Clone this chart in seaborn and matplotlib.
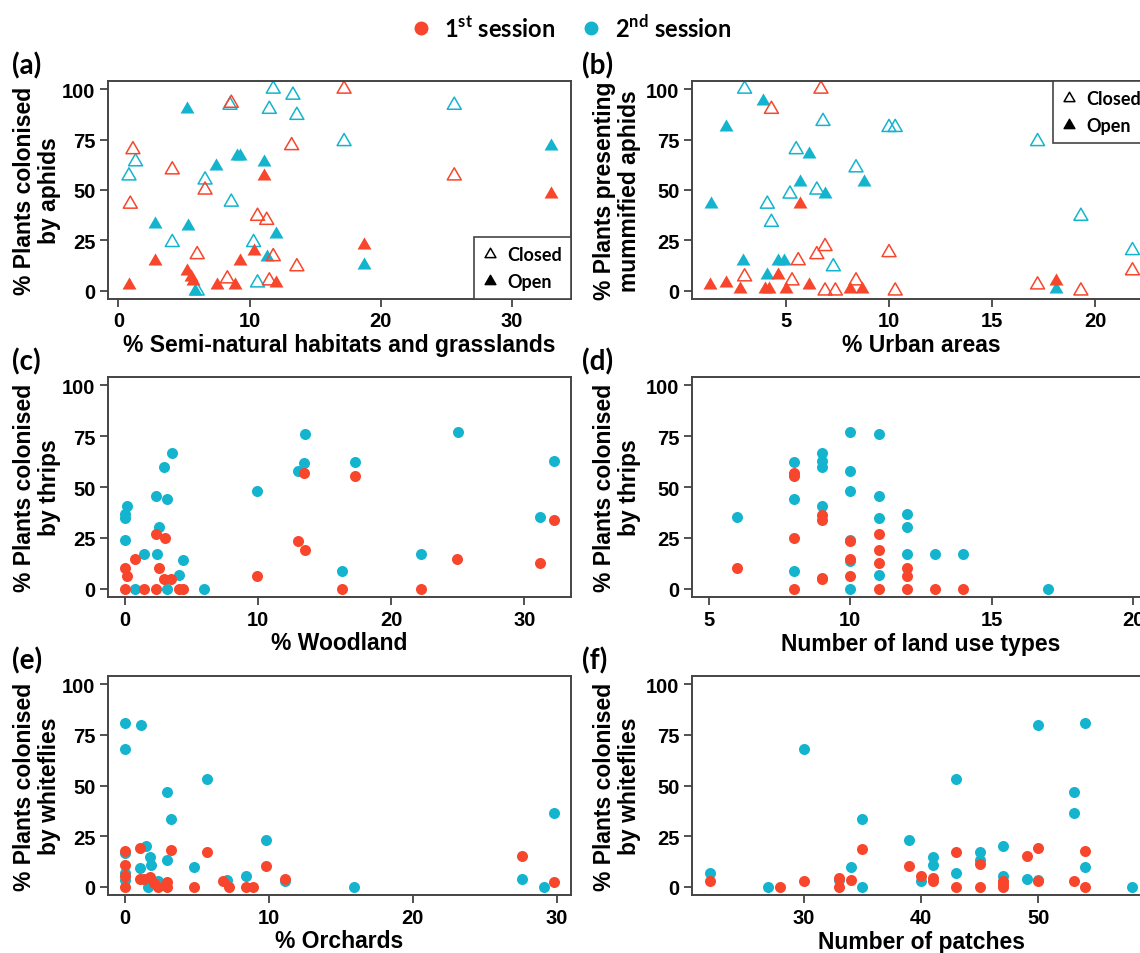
import matplotlib
matplotlib.use("Agg")
import matplotlib.pyplot as plt
from matplotlib.lines import Line2D
from matplotlib.path import Path
import seaborn as sns

# couleurs des deux sessions
RED = "#F7462C"
BLUE = "#14B4CE"

# (a) pucerons ~ % habitats semi-naturels
a_s1_closed_x = [1.1, 0.9, 4.1, 6.6, 6.0, 8.6, 8.3, 10.6, 11.3, 11.5, 11.8, 13.2, 13.6, 17.2, 25.6]
a_s1_closed_y = [70, 43, 60, 50, 18, 93, 6, 37, 35, 5, 17, 72, 12, 100, 57]
a_s1_open_x = [0.8, 2.8, 5.2, 5.5, 5.7, 7.5, 8.9, 9.3, 10.3, 11.1, 12.0, 18.7, 33.0]
a_s1_open_y = [3, 15, 10, 7, 5, 3, 3, 15, 20, 57, 4, 23, 48]
a_s2_closed_x = [0.8, 1.3, 4.1, 6.6, 6.0, 8.5, 8.6, 10.3, 10.6, 11.5, 11.8, 13.3, 13.6, 17.2, 25.6]
a_s2_closed_y = [57, 64, 24, 55, 0, 92, 44, 24, 4, 90, 100, 97, 87, 74, 92]
a_s2_open_x = [5.2, 2.8, 5.3, 7.4, 9.0, 9.3, 11.1, 11.3, 12.0, 5.8, 18.7, 33.0]
a_s2_open_y = [90, 33, 32, 62, 67, 67, 64, 17, 28, 0, 13, 72]

# (b) pucerons momifiés ~ % zones urbaines
b_s1_closed_x = [6.7, 4.3, 3.0, 5.3, 5.6, 6.5, 6.9, 6.9, 7.4, 8.4, 10.0, 10.3, 17.2, 19.3, 21.8]
b_s1_closed_y = [100, 90, 7, 5, 15, 18, 22, 0, 0, 5, 19, 0, 3, 0, 10]
b_s1_open_x = [1.3, 2.1, 2.8, 4.0, 4.2, 4.6, 5.0, 5.7, 6.1, 8.1, 8.7, 18.1]
b_s1_open_y = [3, 4, 1, 1, 1, 8, 1, 43, 3, 1, 1, 5]
b_s2_closed_x = [3.0, 6.8, 10.0, 10.3, 5.5, 8.4, 5.2, 6.5, 4.1, 4.3, 7.3, 17.2, 19.3, 21.8]
b_s2_closed_y = [100, 84, 81, 81, 70, 61, 48, 50, 43, 34, 12, 74, 37, 20]
b_s2_open_x = [3.9, 2.1, 1.35, 6.1, 5.7, 6.9, 8.8, 2.9, 4.6, 4.9, 4.1, 18.1]
b_s2_open_y = [94, 81, 43, 68, 54, 48, 54, 15, 15, 15, 8, 1]

# (c) thrips ~ % bois
c_s1_x = [0, 0, 0.1, 0.7, 1.4, 2.3, 2.3, 2.5, 3.0, 2.9, 3.4, 4.0, 4.3, 9.9, 13.0, 13.4, 13.5, 16.3, 17.3, 22.2, 24.9, 31.2, 32.2]
c_s1_y = [0, 10.4, 6.5, 14.6, 0, 0, 27, 10.4, 25, 5, 5, 0, 0, 6.5, 23.5, 57, 19, 0, 55.5, 0, 14.6, 12.5, 33.7]
c_s2_x = [0.1, 0, 0, 0, 0.75, 1.4, 2.3, 2.5, 2.4, 2.9, 3.1, 3.1, 3.5, 4.0, 4.3, 5.9, 9.9, 13.0, 13.4, 13.5, 16.3, 17.3, 22.2, 25.0, 31.2, 32.2]
c_s2_y = [40.8, 36.7, 35, 24.2, 0, 17, 45.5, 30.4, 17, 60, 44, 0, 66.6, 6.9, 14, 0, 47.8, 57.9, 61.7, 76.2, 8.7, 62.2, 17, 77, 35.2, 63]

# (d) thrips ~ nombre de types d'occupation du sol
d_s1_x = [6, 8, 8, 8, 8, 9, 9, 9, 9, 10, 10, 10, 11, 11, 11, 11, 12, 12, 12, 13, 14]
d_s1_y = [10.4, 57, 55.5, 25, 0, 36.5, 33.7, 5.2, 4.8, 23.5, 14.6, 6.5, 27, 19, 12.5, 0, 10.4, 6.5, 0, 0, 0]
d_s2_x = [6, 8, 8, 8, 9, 9, 9, 9, 10, 10, 10, 10, 10, 10, 11, 11, 11, 11, 12, 12, 12, 13, 14, 17]
d_s2_y = [35.2, 62.2, 44, 8.7, 66.6, 63, 60, 40.8, 77, 57.9, 47.8, 24.2, 13.7, 0, 76.2, 45.5, 35, 6.9, 36.7, 30.4, 17, 17, 17, 0]

# (e) aleurodes ~ % vergers
e_s1_x = [0, 0, 0, 0, 1.0, 1.0, 1.3, 1.7, 2.0, 2.3, 2.9, 2.9, 3.2, 4.8, 5.7, 6.8, 7.2, 8.4, 8.9, 9.8, 11.1, 27.6, 29.8]
e_s1_y = [0, 5.5, 11, 17.9, 19, 3.7, 3.7, 4.7, 2, 0, 2.4, 0, 18.2, 0, 17.2, 2.7, 0, 0, 0, 10.5, 4, 15, 2.4]
e_s2_x = [0, 0, 1.1, 0, 0, 0, 1.0, 1.45, 1.7, 1.8, 1.6, 2.3, 2.9, 2.9, 3.2, 4.8, 5.7, 7.1, 8.4, 9.8, 11.1, 15.9, 27.6, 29.1, 29.8]
e_s2_y = [80.9, 68.2, 80, 16.5, 6.8, 3.5, 9.5, 20.3, 14.5, 11, 0, 3, 46.8, 13.3, 33.3, 9.8, 53.4, 3.2, 5.2, 23, 2.7, 0, 4, 0, 36.5]

# (f) aleurodes ~ nombre de patchs
f_s1_x = [22, 28, 30, 33, 33, 34, 35, 39, 40, 41, 41, 43, 43, 45, 45, 47, 47, 47, 49, 50, 50, 53, 54, 54]
f_s1_y = [2.7, 0, 3, 4.4, 0, 3.5, 18.6, 10.5, 5.4, 4.4, 2.7, 17.2, 0, 11.1, 0, 2.7, 1.4, 0, 15, 19.3, 2.7, 2.7, 17.9, 0]
f_s2_x = [22, 27, 30, 33, 34, 35, 35, 39, 40, 41, 41, 43, 43, 45, 45, 47, 47, 49, 50, 50, 53, 53, 54, 54, 58]
f_s2_y = [6.8, 0, 68.2, 3.2, 9.8, 33.3, 0, 23, 3, 14.5, 11, 53.4, 6.8, 17.2, 13.3, 20.3, 5.4, 4, 80, 3.5, 46.8, 36.5, 80.9, 9.8, 0]

sns.set_theme(style="ticks")
plt.rcParams["font.family"] = ["Liberation Sans", "DejaVu Sans"]
plt.rcParams["font.weight"] = "bold"
plt.rcParams["axes.labelweight"] = "bold"
plt.rcParams["text.color"] = "black"
plt.rcParams["axes.labelcolor"] = "black"
plt.rcParams["xtick.labelcolor"] = "black"
plt.rcParams["ytick.labelcolor"] = "black"
plt.rcParams["mathtext.fontset"] = "custom"
plt.rcParams["mathtext.rm"] = "Lato:bold"
plt.rcParams["mathtext.bf"] = "Lato:bold"

W, H = 1140, 954
fig = plt.figure(figsize=(W / 100, H / 100), dpi=100)

# triangle équilatéral (pch 2 / 17 de R)
TRI = Path([(-1, -0.577), (1, -0.577), (0, 1.155), (-1, -0.577)], closed=True)
LAB_FONT = {"family": "Lato", "weight": "bold"}


def new_axes(l, t, r, b):
    return fig.add_axes([l / W, 1 - b / H, (r - l) / W, (b - t) / H])


def tri(ax, x, y, color, filled):
    sns.scatterplot(x=x, y=y, color=color, marker=TRI, s=135, linewidth=0, legend=False, ax=ax)
    if not filled:
        coll = ax.collections[-1]
        coll.set_facecolors("none")
        coll.set_edgecolors(color)
        coll.set_linewidths(1.1)


def dots(ax, x, y, color):
    sns.scatterplot(x=x, y=y, color=color, marker="o", s=63, linewidth=0, legend=False, ax=ax)


def style(ax, xlim, xticks, xlabel, ylabel, ylab_x, height):
    ax.set_xlim(xlim)
    ax.set_ylim(-4, 104)
    ax.set_xticks(xticks)
    ax.set_yticks([0, 25, 50, 75, 100])
    ax.tick_params(direction="out", length=6, width=1.2, color="#333333", labelsize=14.5, pad=3)
    for sp in ax.spines.values():
        sp.set_visible(True)
        sp.set_color("#444444")
        sp.set_linewidth(1.4)
    ax.set_xlabel(xlabel, fontsize=16.5, va="center")
    ax.xaxis.set_label_coords(0.5, -46 / height)
    ax.set_ylabel(ylabel, fontsize=16.5, va="center", ha="center", linespacing=1.1)
    ax.yaxis.set_label_coords(ylab_x, 0.5)


def closed_open_legend(ax, loc):
    handles = [
        Line2D([], [], marker=TRI, ls="", mfc="none", mec="black", mew=1.1, ms=9),
        Line2D([], [], marker=TRI, ls="", color="black", ms=9),
    ]
    leg = ax.legend(handles, ["Closed", "Open"], loc=loc, borderaxespad=0, frameon=True,
                    fancybox=False, edgecolor="#444444", framealpha=1,
                    prop={**LAB_FONT, "size": 13}, handlelength=0.8, handletextpad=0.55,
                    borderpad=0.5, labelspacing=0.55)
    leg.get_frame().set_linewidth(1.2)


LEFT = (108, 571)
RIGHT = (692, 1150)
ROWS = [(82, 300), (378, 598), (677, 896)]
YL_LEFT = (37 - 108) / 463
YL_RIGHT = (617 - 692) / 458

# (a)
ax = new_axes(LEFT[0], ROWS[0][0], LEFT[1], ROWS[0][1])
tri(ax, a_s2_closed_x, a_s2_closed_y, BLUE, False)
tri(ax, a_s2_open_x, a_s2_open_y, BLUE, True)
tri(ax, a_s1_closed_x, a_s1_closed_y, RED, False)
tri(ax, a_s1_open_x, a_s1_open_y, RED, True)
style(ax, (-0.8, 34.5), [0, 10, 20, 30], "% Semi-natural habitats and grasslands",
      "% Plants colonised\nby aphids", YL_LEFT, 218)
closed_open_legend(ax, "lower right")

# (b)
ax = new_axes(RIGHT[0], ROWS[0][0], RIGHT[1], ROWS[0][1])
tri(ax, b_s2_closed_x, b_s2_closed_y, BLUE, False)
tri(ax, b_s2_open_x, b_s2_open_y, BLUE, True)
tri(ax, b_s1_closed_x, b_s1_closed_y, RED, False)
tri(ax, b_s1_open_x, b_s1_open_y, RED, True)
style(ax, (0.45, 22.65), [5, 10, 15, 20], "% Urban areas",
      "% Plants presenting\nmummified aphids", YL_RIGHT, 218)
closed_open_legend(ax, "upper right")

# (c)
ax = new_axes(LEFT[0], ROWS[1][0], LEFT[1], ROWS[1][1])
dots(ax, c_s2_x, c_s2_y, BLUE)
dots(ax, c_s1_x, c_s1_y, RED)
style(ax, (-1.3, 33.5), [0, 10, 20, 30], "% Woodland",
      "% Plants colonised\nby thrips", YL_LEFT, 220)

# (d)
ax = new_axes(RIGHT[0], ROWS[1][0], RIGHT[1], ROWS[1][1])
dots(ax, d_s2_x, d_s2_y, BLUE)
dots(ax, d_s1_x, d_s1_y, RED)
style(ax, (4.4, 20.6), [5, 10, 15, 20], "Number of land use types",
      "% Plants colonised\nby thrips", YL_RIGHT, 220)

# (e)
ax = new_axes(LEFT[0], ROWS[2][0], LEFT[1], ROWS[2][1])
dots(ax, e_s2_x, e_s2_y, BLUE)
dots(ax, e_s1_x, e_s1_y, RED)
style(ax, (-1.2, 31.0), [0, 10, 20, 30], "% Orchards",
      "% Plants colonised\nby whiteflies", YL_LEFT, 219)

# (f)
ax = new_axes(RIGHT[0], ROWS[2][0], RIGHT[1], ROWS[2][1])
dots(ax, f_s2_x, f_s2_y, BLUE)
dots(ax, f_s1_x, f_s1_y, RED)
style(ax, (20.5, 59.5), [30, 40, 50], "Number of patches",
      "% Plants colonised\nby whiteflies", YL_RIGHT, 219)

# lettres des panneaux
for letter, px, py in [("(a)", 12, 66), ("(b)", 582, 66), ("(c)", 12, 362),
                       ("(d)", 582, 362), ("(e)", 12, 661), ("(f)", 582, 661)]:
    fig.text(px / W, 1 - py / H, letter, fontsize=20, va="center", ha="left", **LAB_FONT)

# légende des sessions
sess_handles = [Line2D([], [], marker="o", ls="", color=RED, ms=9),
                Line2D([], [], marker="o", ls="", color=BLUE, ms=9)]
fig.legend(sess_handles, [r"1$^{\mathbf{st}}$ session", r"2$^{\mathbf{nd}}$ session"],
           loc="center", bbox_to_anchor=(570 / W, 1 - 28 / H), ncol=2, frameon=False,
           prop={**LAB_FONT, "size": 17}, handlelength=1.0, handletextpad=0.5, columnspacing=1.0)

fig.savefig("out.png", dpi=100)
